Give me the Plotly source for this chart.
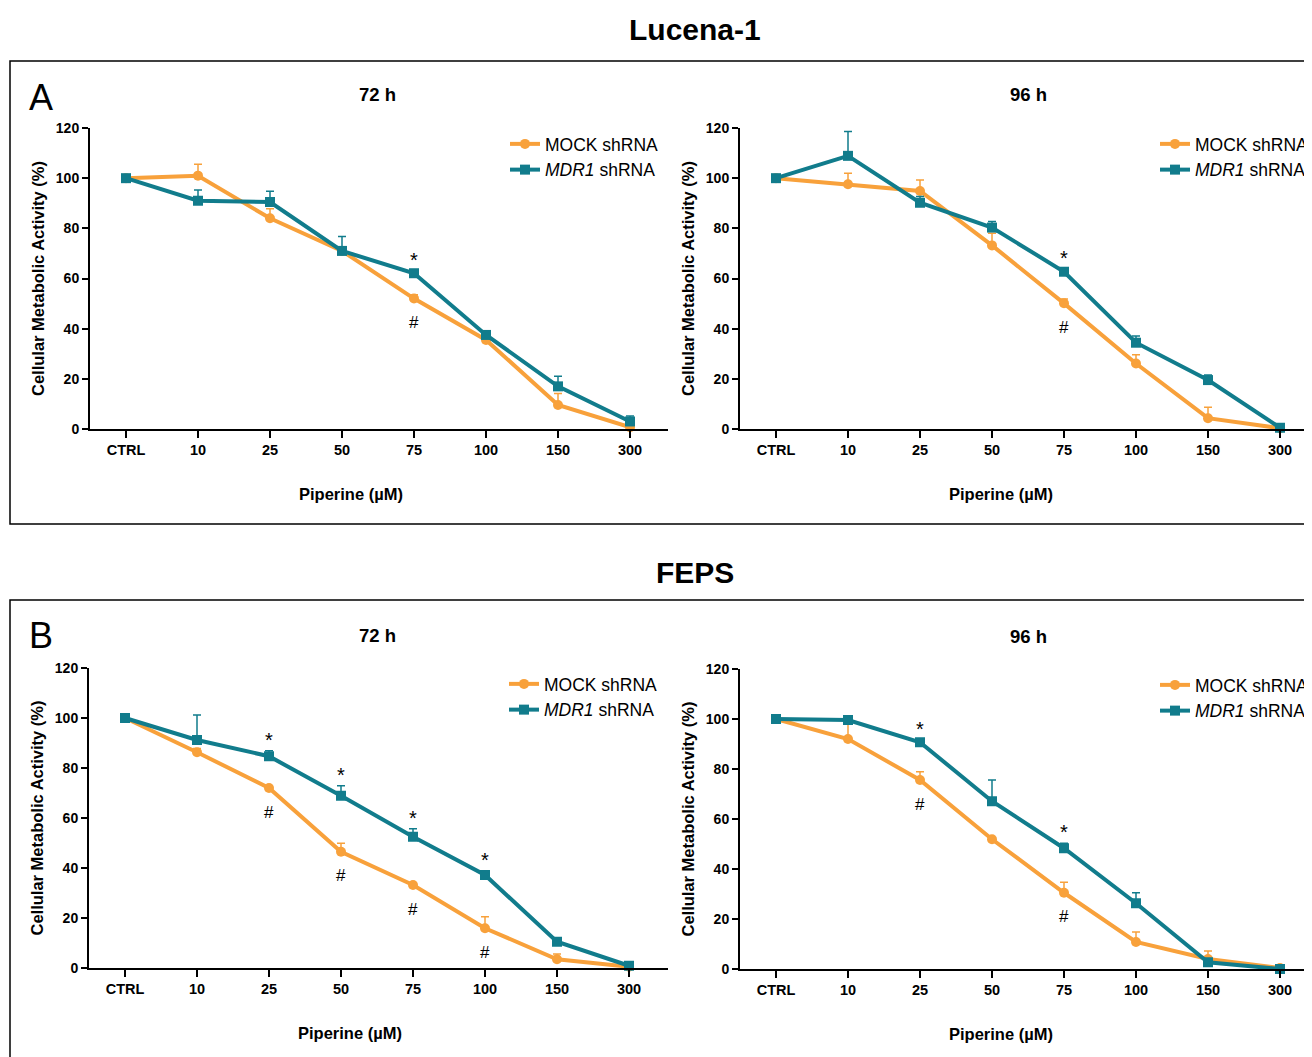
import plotly.graph_objects as go

# ---------------- data ----------------
doses = ["CTRL", "10", "25", "50", "75", "100", "150", "300"]
y_ticks = [0, 20, 40, 60, 80, 100, 120]

lucena_72_mock = [100, 101, 84, 71, 52, 35.5, 9.6, 0.7]
lucena_72_mock_err = [0, 4.5, 3.8, 0, 1.5, 0, 4.6, 0]
lucena_72_mdr1 = [100, 91, 90.5, 71, 62.1, 37.5, 17, 3]
lucena_72_mdr1_err = [0.5, 4.3, 4.3, 5.7, 1, 1, 4, 2.2]

lucena_96_mock = [100, 97.6, 94.9, 73.2, 50.1, 26.1, 4.3, 0.3]
lucena_96_mock_err = [0, 4.4, 4.4, 4.8, 1.7, 3.5, 4.4, 0]
lucena_96_mdr1 = [100, 108.9, 90.2, 80.3, 62.7, 34.4, 19.5, 0.5]
lucena_96_mdr1_err = [0.5, 9.7, 2.5, 2.4, 1, 2.7, 2, 0]

feps_72_mock = [100, 86.3, 72, 46.5, 33.2, 15.9, 3.5, 0.5]
feps_72_mock_err = [0, 1.5, 0.5, 3.4, 0.5, 4.6, 2.1, 0]
feps_72_mdr1 = [100, 91.2, 84.7, 68.9, 52.5, 37.2, 10.5, 0.9]
feps_72_mdr1_err = [0.5, 10, 2.2, 4, 3.2, 1.7, 0.8, 0.3]

feps_96_mock = [100, 92, 75.6, 51.9, 30.5, 10.8, 4, 0.4]
feps_96_mock_err = [0, 7, 3.3, 0.5, 4.2, 4, 3.2, 0]
feps_96_mdr1 = [100, 99.6, 90.7, 67.1, 48.3, 26.3, 2.7, 0]
feps_96_mdr1_err = [0.5, 0.5, 1, 8.5, 2, 4.2, 0, 0]

lucena_72_sig = ["75"]
lucena_96_sig = ["75"]
feps_72_sig = ["25", "50", "75", "100"]
feps_96_sig = ["25", "75"]

series_names = ["MOCK shRNA", "<i>MDR1</i> shRNA"]
panel_titles = ["72 h", "96 h", "72 h", "96 h"]
group_titles = ["Lucena-1", "FEPS"]
group_letters = ["A", "B"]
x_title = "Piperine (µM)"
y_title = "Cellular Metabolic Activity (%)"

# ---------------- layout helpers ----------------
OFF = 8  # page body margin
W, H = 1312, 1057
ORANGE = "#F8A13B"
TEAL = "#117C8C"
FONT = "Arial, Liberation Sans, sans-serif"


def px(x):
    return (x - OFF) / W


def py(y):
    return 1 - (y - OFF) / H


panels = [
    dict(mock=lucena_72_mock, mock_err=lucena_72_mock_err, mdr=lucena_72_mdr1, mdr_err=lucena_72_mdr1_err,
         sig=lucena_72_sig, x0=90, cat0=126, x1=668, y0=429, y1=128, title=panel_titles[0]),
    dict(mock=lucena_96_mock, mock_err=lucena_96_mock_err, mdr=lucena_96_mdr1, mdr_err=lucena_96_mdr1_err,
         sig=lucena_96_sig, x0=740, cat0=776, x1=1320, y0=429, y1=128, title=panel_titles[1]),
    dict(mock=feps_72_mock, mock_err=feps_72_mock_err, mdr=feps_72_mdr1, mdr_err=feps_72_mdr1_err,
         sig=feps_72_sig, x0=89, cat0=125, x1=668, y0=968, y1=668, title=panel_titles[2]),
    dict(mock=feps_96_mock, mock_err=feps_96_mock_err, mdr=feps_96_mdr1, mdr_err=feps_96_mdr1_err,
         sig=feps_96_sig, x0=740, cat0=776, x1=1320, y0=969, y1=669, title=panel_titles[3]),
]
STEP = 72

fig = go.Figure()
annotations = []
layout_axes = {}

for i, p in enumerate(panels):
    k = i + 1
    xa = "x" if k == 1 else f"x{k}"
    ya = "y" if k == 1 else f"y{k}"
    leg = "legend" if k == 1 else f"legend{k}"

    for name, vals, errs, color, sym in [
        (series_names[0], p["mock"], p["mock_err"], ORANGE, "circle"),
        (series_names[1], p["mdr"], p["mdr_err"], TEAL, "square"),
    ]:
        fig.add_trace(go.Scatter(
            x=doses, y=vals, name=name, mode="lines+markers",
            xaxis=xa, yaxis=ya, legend=leg, cliponaxis=False,
            line=dict(color=color, width=4),
            marker=dict(symbol=sym, size=10, color=color),
            error_y=dict(type="data", symmetric=False, array=errs,
                         arrayminus=[0] * len(errs), color=color,
                         thickness=1.5, width=4),
        ))

    # significance marks (x given as category index)
    for d in p["sig"]:
        j = doses.index(d)
        annotations.append(dict(x=j, y=p["mdr"][j] + p["mdr_err"][j], xref=xa, yref=ya,
                                text="*", showarrow=False, yshift=11,
                                xanchor="center", yanchor="middle",
                                font=dict(size=20, color="black", family=FONT)))
        annotations.append(dict(x=j, y=p["mock"][j], xref=xa, yref=ya,
                                text="#", showarrow=False, yshift=-24,
                                xanchor="center", yanchor="middle",
                                font=dict(size=17, color="black", family=FONT)))

    rmin = -(p["cat0"] - p["x0"]) / STEP
    rmax = (p["x1"] - p["cat0"]) / STEP
    xkey = "xaxis" if k == 1 else f"xaxis{k}"
    ykey = "yaxis" if k == 1 else f"yaxis{k}"
    layout_axes[xkey] = dict(
        domain=[px(p["x0"]), min(px(p["x1"]), 1)], anchor=ya, automargin=False,
        type="category", categoryorder="array", categoryarray=doses,
        range=[rmin, rmax], showline=True, linecolor="black", linewidth=2,
        ticks="outside", ticklen=7, tickwidth=2, tickcolor="black",
        showgrid=False, zeroline=False,
        tickfont=dict(size=14.5, family=FONT, color="black", weight="bold"),
    )
    layout_axes[ykey] = dict(
        domain=[py(p["y0"]), py(p["y1"])], anchor=xa, automargin=False,
        range=[0, 120], tickvals=y_ticks, showline=True, linecolor="black", linewidth=2,
        ticks="outside", ticklen=6, tickwidth=2, tickcolor="black",
        showgrid=False, zeroline=False,
        tickfont=dict(size=14, family=FONT, color="black", weight="bold"),
        title=dict(text=y_title, standoff=7,
                   font=dict(size=16.5, family=FONT, color="black", weight="bold")),
    )
    layout_axes[leg] = dict(
        x=px(p["x0"] + 415), y=py(p["y1"] - 2), xanchor="left", yanchor="top",
        bgcolor="rgba(0,0,0,0)", borderwidth=0,
        font=dict(size=17.5, family=FONT, color="black"),
        itemwidth=30, tracegroupgap=0,
    )
    # subplot title
    annotations.append(dict(x=px(p["cat0"] + 3.5 * STEP), y=py(p["y1"] - 33),
                            xref="paper", yref="paper", text=p["title"], showarrow=False,
                            xanchor="center", yanchor="middle",
                            font=dict(size=18.5, family=FONT, color="black", weight="bold")))
    # x-axis title (offset left of the axis centre, as in the original)
    annotations.append(dict(x=px(p["cat0"] + 3.5 * STEP - 27), y=py(p["y0"] + 65),
                            xref="paper", yref="paper", text=x_title, showarrow=False,
                            xanchor="center", yanchor="middle",
                            font=dict(size=16.5, family=FONT, color="black", weight="bold")))

# group titles and letters
for t, yy in zip(group_titles, [30, 572]):
    annotations.append(dict(x=px(695), y=py(yy), xref="paper", yref="paper", text=t,
                            showarrow=False, xanchor="center", yanchor="middle",
                            font=dict(size=30, family=FONT, color="black", weight="bold")))
for t, yy in zip(group_letters, [97, 635]):
    annotations.append(dict(x=px(41), y=py(yy), xref="paper", yref="paper", text=t,
                            showarrow=False, xanchor="center", yanchor="middle",
                            font=dict(size=36, family=FONT, color="black")))

shapes = [
    dict(type="rect", xref="paper", yref="paper", x0=px(10), x1=px(1340), y0=py(61), y1=py(524),
         line=dict(color="black", width=1.5)),
    dict(type="rect", xref="paper", yref="paper", x0=px(10), x1=px(1340), y0=py(600), y1=py(1090),
         line=dict(color="black", width=1.5)),
]

fig.update_layout(
    width=W, height=H, margin=dict(l=0, r=0, t=0, b=0, pad=0, autoexpand=False),
    paper_bgcolor="white", plot_bgcolor="white",
    showlegend=True, annotations=annotations, shapes=shapes,
    font=dict(family=FONT, color="black"),
    **layout_axes,
)

fig.write_html("out.html")
